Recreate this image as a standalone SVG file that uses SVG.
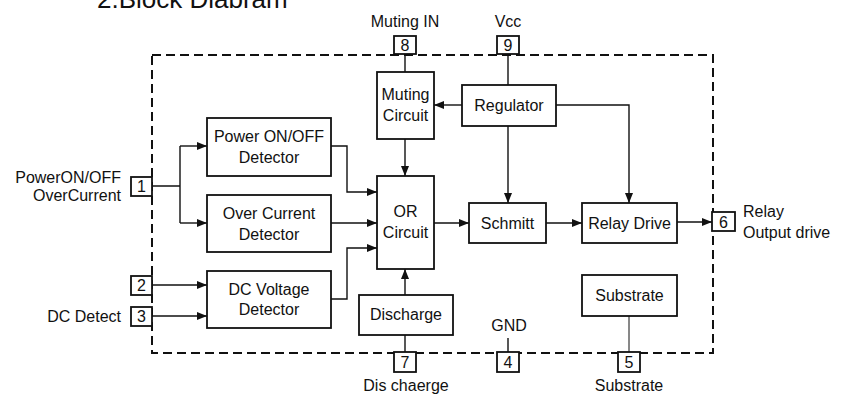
<svg xmlns="http://www.w3.org/2000/svg" width="850" height="395" viewBox="0 0 850 395">
<style>
text{font-family:"Liberation Sans",Arial,sans-serif;fill:#111;}
.lbl{font-size:16px;}
.pin{font-size:16px;text-anchor:middle;}
.blk{font-size:16px;text-anchor:middle;}
.box{fill:#fff;stroke:#111;stroke-width:1.8;}
.pinbox{fill:#fff;stroke:#111;stroke-width:1.8;}
.wire{fill:none;stroke:#111;stroke-width:1.4;}
.arr{fill:none;stroke:#111;stroke-width:1.4;marker-end:url(#ah);}
.border{fill:none;stroke:#111;stroke-width:2;stroke-dasharray:9 5;}
</style>
<defs>
<marker id="ah" viewBox="0 0 10 8" refX="10" refY="4" markerWidth="10" markerHeight="8" markerUnits="userSpaceOnUse" orient="auto">
<path d="M0,0 L10,4 L0,8 Z" fill="#111"/>
</marker>
</defs>
<rect width="850" height="395" fill="#fff"/>
<text x="97" y="8" style="font-size:26px">2.Block Diabram</text>
<rect class="border" x="152" y="55" width="561" height="298"/>

<g id="connectors">
<path class="wire" d="M152,186 H180 M180,146 V223"/>
<path class="arr" d="M180,146 H207"/>
<path class="arr" d="M180,223 H207"/>
<path class="arr" d="M331,146 H347 V192 H377"/>
<path class="arr" d="M331,223 H377"/>
<path class="arr" d="M331,299 H347 V248 H377"/>
<path class="arr" d="M152,285 H207"/>
<path class="arr" d="M152,316 H207"/>
<path class="wire" d="M405,54 V72"/>
<path class="wire" d="M508,54 V85"/>
<path class="arr" d="M462,105 H434"/>
<path class="arr" d="M556,105 H629 V203"/>
<path class="arr" d="M508,126 V203"/>
<path class="arr" d="M405,139 V176"/>
<path class="arr" d="M405,295 V269"/>
<path class="wire" d="M405,335 V352"/>
<path class="arr" d="M434,223 H469"/>
<path class="arr" d="M546,223 H582"/>
<path class="arr" d="M677,222 H712"/>
<path class="wire" d="M508,338 V352"/>
<path class="wire" d="M629,316 V352" style="stroke-width:1"/>
</g>

<g id="pin1"><rect class="pinbox" x="131" y="177" width="21" height="19"/><text class="pin" x="141.5" y="192">1</text>
<text class="lbl" x="121" y="183" text-anchor="end">PowerON/OFF</text><text class="lbl" x="121" y="201" text-anchor="end">OverCurrent</text></g>
<g id="pin2"><rect class="pinbox" x="131" y="276" width="21" height="19"/><text class="pin" x="141.5" y="291">2</text></g>
<g id="pin3"><rect class="pinbox" x="131" y="307" width="21" height="19"/><text class="pin" x="141.5" y="322">3</text>
<text class="lbl" x="121" y="322" text-anchor="end">DC Detect</text></g>
<g id="pin8"><rect class="pinbox" x="394" y="36" width="22" height="18"/><text class="pin" x="405" y="51">8</text>
<text class="lbl" x="405" y="27" text-anchor="middle">Muting IN</text></g>
<g id="pin9"><rect class="pinbox" x="497" y="36" width="22" height="18"/><text class="pin" x="508" y="51">9</text>
<text class="lbl" x="508" y="27" text-anchor="middle">Vcc</text></g>
<g id="pin7"><rect class="pinbox" x="394" y="352" width="22" height="20"/><text class="pin" x="405" y="368">7</text>
<text class="lbl" x="406" y="391" text-anchor="middle">Dis chaerge</text></g>
<g id="pin4"><rect class="pinbox" x="497" y="352" width="22" height="20"/><text class="pin" x="508" y="368">4</text>
<text class="lbl" x="509" y="331" text-anchor="middle">GND</text></g>
<g id="pin5"><rect class="pinbox" x="618" y="352" width="22" height="20"/><text class="pin" x="629" y="368">5</text>
<text class="lbl" x="629" y="391" text-anchor="middle">Substrate</text></g>
<g id="pin6"><rect class="pinbox" x="712" y="212" width="23" height="19"/><text class="pin" x="723.5" y="228">6</text>
<text class="lbl" x="743" y="217">Relay</text><text class="lbl" x="743" y="238">Output drive</text></g>

<g id="power-onoff"><rect class="box" x="207" y="118" width="124" height="58"/><text class="blk" x="269" y="142">Power ON/OFF</text><text class="blk" x="269" y="163">Detector</text></g>
<g id="over-current"><rect class="box" x="207" y="195" width="124" height="57"/><text class="blk" x="269" y="219">Over Current</text><text class="blk" x="269" y="240">Detector</text></g>
<g id="dc-voltage"><rect class="box" x="207" y="271" width="124" height="57"/><text class="blk" x="269" y="295">DC Voltage</text><text class="blk" x="269" y="315">Detector</text></g>
<g id="muting"><rect class="box" x="377" y="72" width="57" height="67"/><text class="blk" x="405.5" y="100">Muting</text><text class="blk" x="405.5" y="121">Circuit</text></g>
<g id="regulator"><rect class="box" x="462" y="85" width="94" height="41"/><text class="blk" x="509" y="111">Regulator</text></g>
<g id="or"><rect class="box" x="377" y="176" width="57" height="93"/><text class="blk" x="405.5" y="217">OR</text><text class="blk" x="405.5" y="238">Circuit</text></g>
<g id="schmitt"><rect class="box" x="469" y="203" width="77" height="40"/><text class="blk" x="507.5" y="229">Schmitt</text></g>
<g id="relay-drive"><rect class="box" x="582" y="203" width="95" height="40"/><text class="blk" x="629.5" y="229">Relay Drive</text></g>
<g id="discharge"><rect class="box" x="359" y="295" width="94" height="40"/><text class="blk" x="406" y="320">Discharge</text></g>
<g id="substrate"><rect class="box" x="582" y="275" width="95" height="41"/><text class="blk" x="629.5" y="301">Substrate</text></g>
</svg>
